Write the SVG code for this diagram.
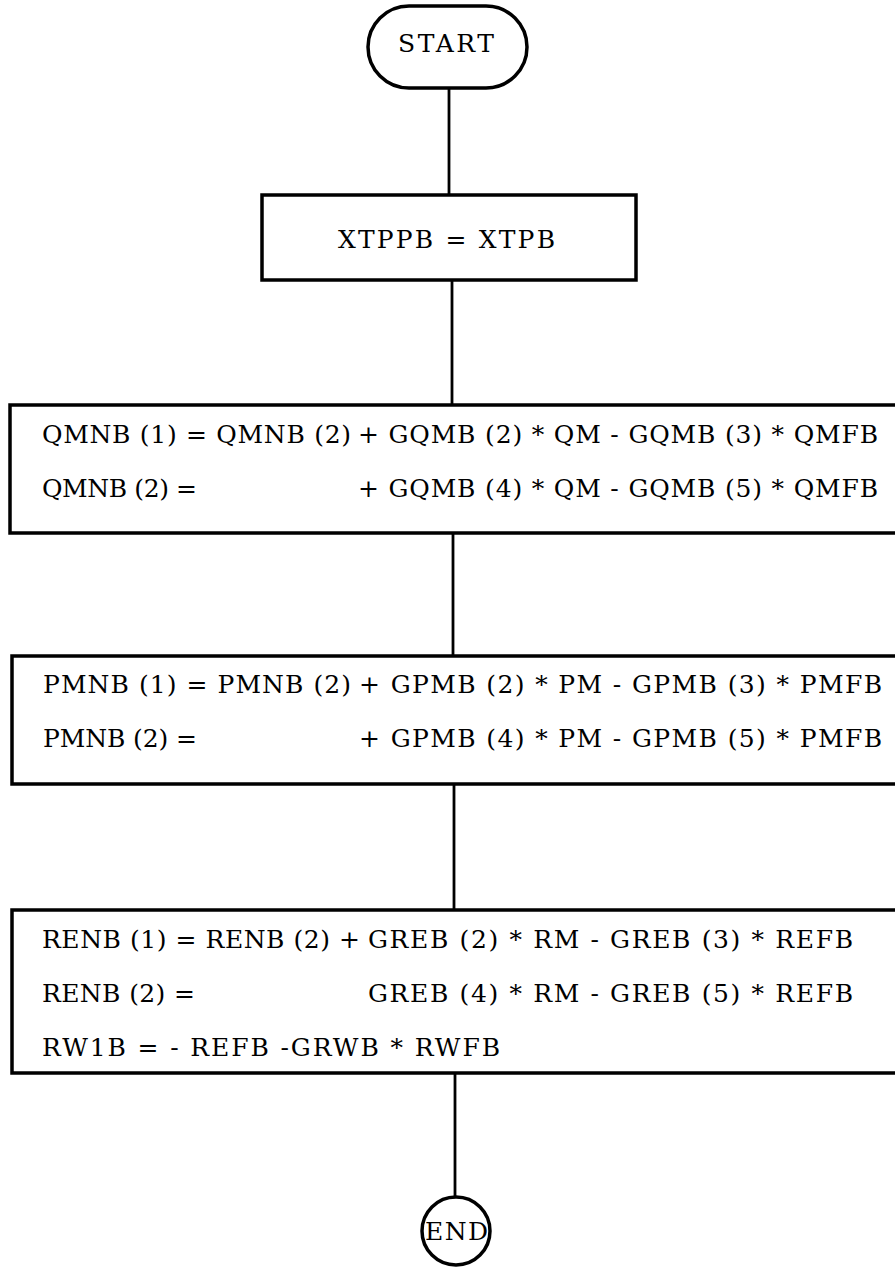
<svg xmlns="http://www.w3.org/2000/svg" width="895" height="1268" viewBox="0 0 895 1268">
<style>
.box{fill:#fff;stroke:#000;stroke-width:3.5}
.ln{fill:none;stroke:#000;stroke-width:2.8}
text{font-family:"DejaVu Serif","Liberation Serif",serif;font-size:25px;fill:#000}
</style>
<rect width="895" height="1268" fill="#fff"/>
<g id="connectors">
<line class="ln" x1="449" y1="88" x2="449" y2="195"/>
<line class="ln" x1="452" y1="280" x2="452" y2="405"/>
<line class="ln" x1="453" y1="533" x2="453" y2="656"/>
<line class="ln" x1="454" y1="784" x2="454" y2="910"/>
<line class="ln" x1="455" y1="1073" x2="455" y2="1197"/>
</g>
<g id="start">
<rect class="box" x="368" y="6" width="159" height="82" rx="41" ry="41"/>
<text x="398" y="52" textLength="96" lengthAdjust="spacing">START</text>
</g>
<g id="xtppb">
<rect class="box" x="262" y="195" width="374" height="85"/>
<text x="338" y="248" textLength="217" lengthAdjust="spacing">XTPPB = XTPB</text>
</g>
<g id="qmnb">
<path class="box" d="M897,405 H10 V533 H897"/>
<text x="42" y="443" textLength="309" lengthAdjust="spacing">QMNB (1) = QMNB (2)</text>
<text x="358" y="443" textLength="520" lengthAdjust="spacing">+ GQMB (2) * QM - GQMB (3) * QMFB</text>
<text x="42" y="497" textLength="155" lengthAdjust="spacing">QMNB (2) =</text>
<text x="358" y="497" textLength="520" lengthAdjust="spacing">+ GQMB (4) * QM - GQMB (5) * QMFB</text>
</g>
<g id="pmnb">
<path class="box" d="M897,656 H12 V784 H897"/>
<text x="43" y="693" textLength="308" lengthAdjust="spacing">PMNB (1) = PMNB (2)</text>
<text x="359" y="693" textLength="523" lengthAdjust="spacing">+ GPMB (2) * PM - GPMB (3) * PMFB</text>
<text x="43" y="747" textLength="154" lengthAdjust="spacing">PMNB (2) =</text>
<text x="359" y="747" textLength="523" lengthAdjust="spacing">+ GPMB (4) * PM - GPMB (5) * PMFB</text>
</g>
<g id="renb">
<path class="box" d="M897,910 H12 V1073 H897"/>
<text x="42" y="948" textLength="318" lengthAdjust="spacing">RENB (1) = RENB (2) +</text>
<text x="368" y="948" textLength="485" lengthAdjust="spacing">GREB (2) * RM - GREB (3) * REFB</text>
<text x="42" y="1002" textLength="153" lengthAdjust="spacing">RENB (2) =</text>
<text x="368" y="1002" textLength="485" lengthAdjust="spacing">GREB (4) * RM - GREB (5) * REFB</text>
<text x="42" y="1056" textLength="458" lengthAdjust="spacing">RW1B = - REFB -GRWB * RWFB</text>
</g>
<g id="end">
<circle class="box" cx="456" cy="1231" r="34"/>
<text x="425" y="1240" textLength="63" lengthAdjust="spacing">END</text>
</g>
</svg>
